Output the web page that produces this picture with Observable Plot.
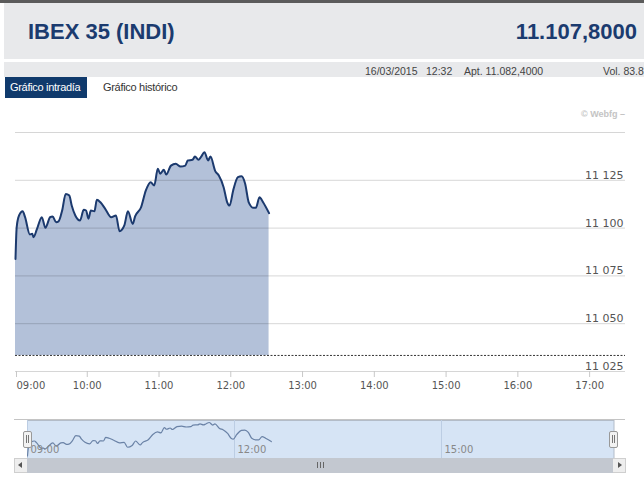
<!DOCTYPE html>
<html><head><meta charset="utf-8">
<script src="https://cdn.jsdelivr.net/npm/d3@7"></script>
<script src="https://cdn.jsdelivr.net/npm/@observablehq/plot@0.6"></script>
<style>
body{margin:0;width:644px;height:493px;background:#fff;position:relative;overflow:hidden;font-family:"Liberation Sans",Arial,sans-serif;}
.abs{position:absolute;}
#main svg,#nav svg{position:absolute;left:0;top:0;overflow:visible;}
.tri-l{position:absolute;width:0;height:0;border-top:3px solid transparent;border-bottom:3px solid transparent;border-right:4px solid #555;}
.tri-r{position:absolute;width:0;height:0;border-top:3px solid transparent;border-bottom:3px solid transparent;border-left:4px solid #555;}
</style></head><body>
<div class="abs" style="left:0;top:0;width:644px;height:3px;background:#5b5b5b"></div>
<div class="abs" style="left:4px;top:3px;width:640px;height:56px;background:#e8e9eb"></div>
<div class="abs" style="left:28px;top:21px;font-size:22px;line-height:22px;font-weight:bold;color:#1b3b6f;white-space:nowrap">IBEX 35 (INDI)</div>
<div class="abs" style="right:7px;top:21px;font-size:22px;line-height:22px;font-weight:bold;color:#1b3b6f;white-space:nowrap">11.107,8000</div>
<div class="abs" style="left:4px;top:62px;width:640px;height:15px;background:#e8e9eb"></div>
<div class="abs" style="left:365px;top:65px;font-size:10.5px;line-height:12px;color:#444;white-space:nowrap">16/03/2015</div>
<div class="abs" style="left:426px;top:65px;font-size:10.5px;line-height:12px;color:#444;white-space:nowrap">12:32</div>
<div class="abs" style="left:464px;top:65px;font-size:10.5px;line-height:12px;color:#444;white-space:nowrap">Apt. 11.082,4000</div>
<div class="abs" style="left:603px;top:65px;font-size:10.5px;line-height:12px;color:#444;white-space:nowrap">Vol. 83.8</div>
<div class="abs" style="left:5px;top:77px;width:82px;height:21px;background:#103a6c"></div>
<div class="abs" style="left:10px;top:77px;font-size:11px;line-height:21px;color:#fff;letter-spacing:-0.3px;white-space:nowrap">Gráfico intradía</div>
<div class="abs" style="left:103px;top:77px;font-size:11px;line-height:21px;color:#333;letter-spacing:-0.3px;white-space:nowrap">Gráfico histórico</div>
<div class="abs" style="right:19px;top:109px;font-size:9px;line-height:11px;font-weight:bold;color:#c4c4c4;white-space:nowrap">© Webfg –</div>
<div class="abs" id="main" style="left:0;top:100px;width:644px;height:300px"></div>
<div class="abs" style="left:14px;top:419px;width:611px;height:1px;background:#c4c4c4"></div>
<div class="abs" id="nav" style="left:0;top:412px;width:644px;height:46px"></div>
<!-- scrollbar -->
<div class="abs" style="left:14px;top:458px;width:610px;height:13px;background:#eeeeee;border:1px solid #cfcfcf"></div>
<div class="abs" style="left:27px;top:458px;width:586px;height:15px;background:#c3c8d0"></div>
<div class="abs" style="left:317px;top:462px;width:1px;height:6px;background:#666"></div>
<div class="abs" style="left:320px;top:462px;width:1px;height:6px;background:#666"></div>
<div class="abs" style="left:323px;top:462px;width:1px;height:6px;background:#666"></div>
<div class="tri-l" style="left:18px;top:462px"></div>
<div class="tri-r" style="left:618px;top:462px"></div>
<!-- handles -->
<div class="abs" style="left:23px;top:431px;width:7px;height:15px;background:#f2f2f2;border:1px solid #999;border-radius:2px"></div>
<div class="abs" style="left:26px;top:435px;width:1px;height:8px;background:#777"></div>
<div class="abs" style="left:28px;top:435px;width:1px;height:8px;background:#777"></div>
<div class="abs" style="left:609px;top:431px;width:7px;height:15px;background:#f2f2f2;border:1px solid #999;border-radius:2px"></div>
<div class="abs" style="left:612px;top:435px;width:1px;height:8px;background:#777"></div>
<div class="abs" style="left:614px;top:435px;width:1px;height:8px;background:#777"></div>
<script>
// Intraday IBEX 35 values (time, index level)
const times = ["09:00","09:01","09:03","09:06","09:08","09:12","09:14","09:15","09:18","09:22",
  "09:25","09:29","09:31","09:34","09:36","09:39","09:42","09:45","09:47","09:50",
  "09:54","09:57","09:59","10:01","10:03","10:06","10:08","10:11","10:15","10:20",
  "10:24","10:27","10:31","10:34","10:38","10:40","10:45","10:49","10:53","10:56",
  "10:59","11:01","11:04","11:06","11:10","11:14","11:18","11:22","11:24","11:28",
  "11:30","11:33","11:35","11:38","11:41","11:43","11:47","11:50","11:54","11:57",
  "11:59","12:02","12:06","12:09","12:12","12:15","12:19","12:21","12:24","12:27","12:32"];
const values = [11083.9,11100.5,11106.6,11108.8,11105.7,11096.7,11097.0,11095.2,11099.6,11105.7,
  11100.2,11105.7,11106.1,11103.1,11103.5,11109.2,11117.9,11117.0,11111.8,11106.6,
  11104.0,11109.6,11109.2,11104.9,11109.2,11108.8,11114.8,11113.5,11110.1,11105.7,
  11106.6,11098.4,11101.4,11108.8,11102.2,11106.1,11110.9,11119.7,11124.0,11122.3,
  11131.0,11128.4,11130.5,11128.0,11132.7,11133.6,11132.2,11132.7,11135.4,11135.7,
  11137.4,11135.7,11137.1,11139.7,11135.4,11137.4,11129.8,11127.5,11121.4,11113.5,
  11111.8,11119.7,11126.6,11127.1,11123.2,11113.5,11110.6,11110.6,11116.2,11113.5,11107.8];
const referenceLevel = 11033.4;   // dashed reference line
const xTickLabels = ["09:00","10:00","11:00","12:00","13:00","14:00","15:00","16:00","17:00"];
const xDomain = ["09:00","17:30"];
const yTickValues = [11025,11050,11075,11100,11125];
const yGridValues = [11025,11050,11075,11100,11125,11150];
const navTickLabels = ["09:00","12:00","15:00"];
const navYDomain = [11090,11142];

const parse = s => new Date(Date.UTC(2015,2,16,+s.slice(0,2),+s.slice(3,5)));
const data = times.map((t,i)=>({t:parse(t), v:values[i]}));
const fmtT = d3.utcFormat("%H:%M");
const fmtY = d => d3.format(",")(d).replace(/,/g," ");
const xTicks = xTickLabels.map(parse);

const main = Plot.plot({
  width:644, height:300,
  marginTop:32, marginBottom:29, marginLeft:15, marginRight:19,
  x:{type:"utc", domain:xDomain.map(parse), label:null},
  y:{domain:[11025,11150], label:null},
  style:{fontFamily:"DejaVu Sans", background:"transparent", color:"#555"},
  marks:[
    Plot.areaY(data,{x:"t", y1:referenceLevel, y2:"v", fill:"#b3c1d9", curve:"monotone-x"}),
    Plot.gridY(yGridValues,{stroke:"#000", strokeOpacity:0.16}),
    Plot.lineY(data,{x:"t", y:"v", stroke:"#1c3a6e", strokeWidth:2, curve:"monotone-x"}),
    Plot.ruleY([referenceLevel],{stroke:"#333", strokeDasharray:"2,1.5", strokeWidth:1}),
    Plot.axisY(yTickValues,{anchor:"right", label:null, tickSize:0, tickPadding:3, textAnchor:"end", dx:-5, dy:-5, tickFormat:fmtY, fontSize:11, fill:"#555"}),
    Plot.axisX(xTicks.slice(0,1),{anchor:"bottom", label:null, tickSize:6, tickPadding:4, textAnchor:"start", dx:1, tickFormat:fmtT, fontSize:10, stroke:"#c8c8c8", fill:"#555"}),
    Plot.axisX(xTicks.slice(1),{anchor:"bottom", label:null, tickSize:6, tickPadding:4, tickFormat:fmtT, fontSize:10, stroke:"#c8c8c8", fill:"#555"})
  ]
});
document.getElementById("main").appendChild(main);

const nav = Plot.plot({
  width:644, height:46,
  marginTop:8, marginBottom:0, marginLeft:27, marginRight:30.5,
  x:{type:"utc", domain:xDomain.map(parse), label:null},
  y:{domain:navYDomain, range:[39.8, 8.6], axis:null},
  style:{fontFamily:"DejaVu Sans", background:"transparent", color:"#888"},
  marks:[
    Plot.frame({fill:"#d6e4f5", stroke:"#b3bcc8"}),
    Plot.gridX(navTickLabels.map(parse),{stroke:"#bccde3", strokeOpacity:1}),
    Plot.lineY(data,{x:"t", y:"v", stroke:"#6a82a6", strokeWidth:1.2, curve:"monotone-x", clip:true}),
    Plot.axisX(navTickLabels.map(parse),{anchor:"bottom", label:null, tickSize:0, tickPadding:3, textAnchor:"start", dx:3, dy:-16, tickFormat:fmtT, fontSize:10, fill:"#888"})
  ]
});
document.getElementById("nav").appendChild(nav);
</script>
</body></html>
